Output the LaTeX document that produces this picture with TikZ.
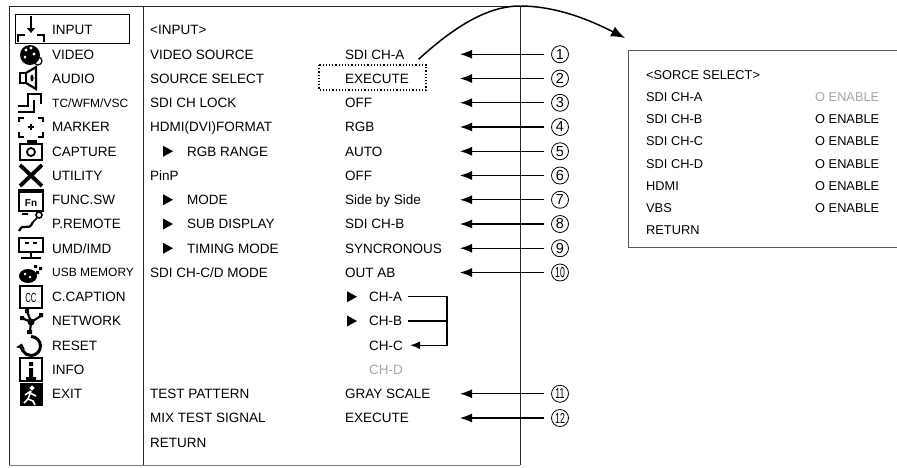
\documentclass[tikz,border=0pt]{standalone}
\usepackage{fontspec}
\setmainfont{Liberation Sans}
\usetikzlibrary{arrows.meta}

\tikzset{
  menu/.style={anchor=west,inner sep=0pt,text height=9.7pt,text depth=0pt,font=\fontsize{13.5}{16}\selectfont},
  smallmenu/.style={menu,text height=8.6pt,font=\fontsize{12}{14}\selectfont},
  popmenu/.style={menu,text height=9.2pt,font=\fontsize{12.8}{15}\selectfont},
  greyed/.style={text=black!35},
  num/.style={circle,draw,line width=0.8pt,minimum size=17pt,inner sep=0pt,font=\fontsize{14.5}{15}\selectfont},
  callout/.style={line width=1.1pt,shorten <=7pt,-{Latex[length=12pt,width=9pt]}},
  frame/.style={line width=1pt,black!85},
  icon/.style={line width=2.2pt},
}
\newcommand\pointer[1]{\fill #1 +(0,-5.5) -- +(10,0) -- +(0,5.5) -- cycle;}
\newcommand\tens[1]{\scalebox{0.6}[1]{#1}}

\begin{document}
\begin{tikzpicture}[x=1pt,y=-1pt]
\useasboundingbox (0,0) rectangle (897,467);

% menu frame
\draw [frame] (9,465) -- (9,6) -- (520,6) -- (520,465);
\draw [frame,black!50] (9,465) -- (520,465);
\draw [frame] (143,6) -- (143,465);
\draw [line width=1pt] (15,14) rectangle (129,43);

% icons
\draw [line width=2pt,-{Triangle[length=5pt,width=8pt]}] (31,16) -- (31,33);
\draw [line width=1.6pt] (18,42) -- (18,35) -- (25,35) (37,35) -- (44,35) -- (44,42);
\fill (30,55) circle (10);
\fill [white] (26,50) circle (1.7) (31,48) circle (1.7) (34,54) circle (1.7) (25,57) circle (1.5);
\draw [line width=1.2pt] (38,61) circle (4);
\draw [icon] (20,73) rectangle (26,83);
\draw [icon] (26,73) -- (36,67) -- (36,89) -- (26,83);
\fill (32,78) ellipse (1.6 and 3.5);
\draw [icon] (18,106) -- (28,106) -- (28,94) -- (41,94) -- (41,104);
\draw [icon] (18,112) -- (34,112) -- (34,100);
\draw [icon] (19,122) -- (19,118) -- (24,118) (38,118) -- (43,118) -- (43,122)
  (19,132) -- (19,137) -- (24,137) (38,137) -- (43,137) -- (43,132);
\draw [line width=1.2pt] (28,127) -- (34,127) (31,124) -- (31,130);
\draw [icon] (20,144) rectangle (42,160);
\fill (27,140) rectangle (37,145);
\draw [line width=1.8pt] (31,152) circle (4);
\draw [line width=3.8pt] (20,165) -- (42,186) (42,165) -- (20,186);
\draw [icon] (19,190) rectangle (43,211);
\fill (19,189) rectangle (43,193);
\node [inner sep=0pt,font=\bfseries\fontsize{10}{10}\selectfont] (fn) at (31,203) {Fn};
\draw [icon] (19,231) .. controls (24,221) and (28,233) .. (33,222);
\draw [line width=1.6pt] (22,214) -- (28,214) (33,222) -- (37,218);
\draw [line width=1.6pt] (39,215) circle (3);
\draw [icon] (19,238) rectangle (43,252);
\draw [line width=1.2pt] (25,243) -- (29,243) (33,243) -- (37,243);
\draw [icon] (31,252) -- (31,257) (21,258) -- (41,258);
\fill (28,276) ellipse (9 and 7);
\fill (34,265) rectangle (37,268) (39,267) rectangle (42,270) (36,271) rectangle (39,274);
\fill [white] (25,274) circle (1.4) (30,277) circle (1.4);
\draw [icon] (20,286) rectangle (42,308);
\node [inner sep=0pt,font=\fontsize{12}{12}\selectfont] (cc) at (31,297.5) {\scalebox{0.65}[1.1]{CC}};
\draw [line width=2.2pt] (31,322) -- (22,318) (31,322) -- (27,311) (31,322) -- (41,316) (31,322) -- (30,332);
\fill (31,322) circle (3.5) (20,316) rectangle (24,320) (25,309) rectangle (29,313) (39,313) rectangle (43,317) (27,330) rectangle (32,334);
\draw [line width=3pt,-{Triangle[length=5pt,width=9pt]}] (31,336.5) arc (270:555:9.5);
\draw [icon] (20,358) rectangle (42,381);
\fill (29,362) rectangle (33,366) (29,368) rectangle (33,378) (26,377) rectangle (36,380);
\fill (20,383) rectangle (43,406);
\draw [white,line width=1.6pt] (32,388) circle (1.5) (31,391) -- (28,399) -- (24,403) (28,399) -- (33,401) -- (35,405)
  (30,393) -- (36,396) (31,391) -- (25,395);

% menu items
\node [menu] (l-input) at (52,30) {INPUT};
\node [menu] (l-video) at (52,54.25) {VIDEO};
\node [menu] (l-audio) at (52,78.5) {AUDIO};
\node [smallmenu] (l-tc) at (52,102.75) {TC/WFM/VSC};
\node [menu] (l-marker) at (52,127) {MARKER};
\node [menu] (l-capture) at (52,151.25) {CAPTURE};
\node [menu] (l-utility) at (52,175.5) {UTILITY};
\node [menu] (l-func) at (52,199.75) {FUNC.SW};
\node [menu] (l-remote) at (52,224) {P.REMOTE};
\node [menu] (l-umd) at (52,248.25) {UMD/IMD};
\node [smallmenu] (l-usb) at (52,272.5) {USB MEMORY};
\node [menu] (l-caption) at (52,296.75) {C.CAPTION};
\node [menu] (l-network) at (52,321) {NETWORK};
\node [menu] (l-reset) at (52,345.25) {RESET};
\node [menu] (l-info) at (52,369.5) {INFO};
\node [menu] (l-exit) at (52,393.75) {EXIT};

% input page
\node [menu] (m-title) at (150,30) {<INPUT>};
\node [menu] (m-source) at (150,54.25) {VIDEO SOURCE};
\node [menu] (m-select) at (150,78.5) {SOURCE SELECT};
\node [menu] (m-lock) at (150,102.75) {SDI CH LOCK};
\node [menu] (m-hdmi) at (150,127) {HDMI(DVI)FORMAT};
\node [menu] (m-range) at (187,151.25) {RGB RANGE};
\node [menu] (m-pinp) at (150,175.5) {PinP};
\node [menu] (m-mode) at (187,199.75) {MODE};
\node [menu] (m-sub) at (187,224) {SUB DISPLAY};
\node [menu] (m-timing) at (187,248.25) {TIMING MODE};
\node [menu] (m-cd) at (150,272.5) {SDI CH-C/D MODE};
\node [menu] (m-test) at (150,393.75) {TEST PATTERN};
\node [menu] (m-mix) at (150,418) {MIX TEST SIGNAL};
\node [menu] (m-return) at (150,442.25) {RETURN};
\pointer{(163,151.25)}
\pointer{(163,199.75)}
\pointer{(163,224)}
\pointer{(163,248.25)}

\node [menu] (v-source) at (345,54.25) {SDI CH-A};
\node [menu] (v-select) at (345,78.5) {EXECUTE};
\node [menu] (v-lock) at (345,102.75) {OFF};
\node [menu] (v-hdmi) at (345,127) {RGB};
\node [menu] (v-range) at (345,151.25) {AUTO};
\node [menu] (v-pinp) at (345,175.5) {OFF};
\node [menu] (v-mode) at (345,199.75) {Side by Side};
\node [menu] (v-sub) at (345,224) {SDI CH-B};
\node [menu] (v-timing) at (345,248.25) {SYNCRONOUS};
\node [menu] (v-cd) at (345,272.5) {OUT AB};
\node [menu] (v-cha) at (369,296.75) {CH-A};
\node [menu] (v-chb) at (369,321) {CH-B};
\node [menu] (v-chc) at (369,345.25) {CH-C};
\node [menu,greyed] (v-chd) at (369,369.5) {CH-D};
\node [menu] (v-test) at (345,393.75) {GRAY SCALE};
\node [menu] (v-mix) at (345,418) {EXECUTE};
\pointer{(347,296.75)}
\pointer{(347,321)}
\draw [line width=1.2pt,dotted] (319,65) rectangle (426,90);

% channel routing
\draw [line width=1.1pt,shorten <=6pt] (v-cha.east) -- (447,296.75) -- (447,345.25)
  [-{Latex[length=10pt,width=8pt]}] -- ([xshift=7pt]v-chc.east);
\draw [line width=1.1pt,shorten <=6pt] (v-chb.east) -- (447,321);

% numbered callouts
\node [num] (c1) at (560,54.25) {1};
\node [num] (c2) at (560,78.5) {2};
\node [num] (c3) at (560,102.75) {3};
\node [num] (c4) at (560,127) {4};
\node [num] (c5) at (560,151.25) {5};
\node [num] (c6) at (560,175.5) {6};
\node [num] (c7) at (560,199.75) {7};
\node [num] (c8) at (560,224) {8};
\node [num] (c9) at (560,248.25) {9};
\node [num] (c10) at (560,272.5) {\tens{10}};
\node [num] (c11) at (560,393.75) {\tens{11}};
\node [num] (c12) at (560,418) {\tens{12}};
\draw [callout] (c1) -- (460,54.25) coordinate (t1);
\draw [callout] (c2) -- (460,78.5) coordinate (t2);
\draw [callout] (c3) -- (460,102.75) coordinate (t3);
\draw [callout] (c4) -- (460,127) coordinate (t4);
\draw [callout] (c5) -- (460,151.25) coordinate (t5);
\draw [callout] (c6) -- (460,175.5) coordinate (t6);
\draw [callout] (c7) -- (460,199.75) coordinate (t7);
\draw [callout] (c8) -- (460,224) coordinate (t8);
\draw [callout] (c9) -- (460,248.25) coordinate (t9);
\draw [callout] (c10) -- (460,272.5) coordinate (t10);
\draw [callout] (c11) -- (460,393.75) coordinate (t11);
\draw [callout] (c12) -- (460,418) coordinate (t12);

% source select popup
\coordinate (pop-tip) at (625,38);
\draw [line width=1.5pt,-{Latex[length=14pt,width=11pt]}] ([shift={(14,5)}]v-source.east)
  .. controls (455,26) and (488,6) .. (520,6) .. controls (556,6) and (590,20) .. (pop-tip);
\draw [line width=1pt,black!65] (897,50) -- (628,50) -- (628,247) -- (897,247);
\node [popmenu] (p-title) at (646,75) {<SORCE SELECT>};
\node [popmenu] (p-a) at (646,97.1) {SDI CH-A};
\node [popmenu] (p-b) at (646,119.2) {SDI CH-B};
\node [popmenu] (p-c) at (646,141.3) {SDI CH-C};
\node [popmenu] (p-d) at (646,163.4) {SDI CH-D};
\node [popmenu] (p-hdmi) at (646,185.5) {HDMI};
\node [popmenu] (p-vbs) at (646,207.6) {VBS};
\node [popmenu] (p-return) at (646,229.7) {RETURN};
\node [popmenu,greyed] (e-a) at (815,97.1) {O ENABLE};
\node [popmenu] (e-b) at (815,119.2) {O ENABLE};
\node [popmenu] (e-c) at (815,141.3) {O ENABLE};
\node [popmenu] (e-d) at (815,163.4) {O ENABLE};
\node [popmenu] (e-hdmi) at (815,185.5) {O ENABLE};
\node [popmenu] (e-vbs) at (815,207.6) {O ENABLE};
\end{tikzpicture}
\end{document}
